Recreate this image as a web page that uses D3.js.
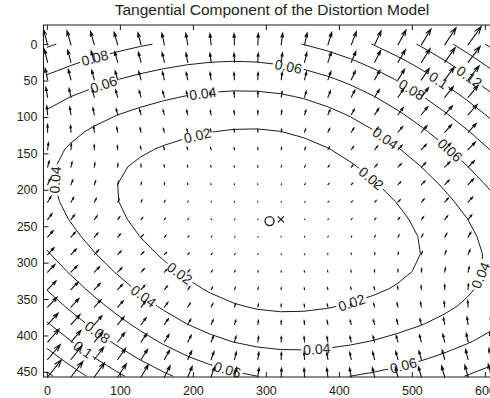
<!DOCTYPE html>
<html>
<head>
<meta charset="utf-8">
<script src="https://cdn.jsdelivr.net/npm/d3@7"></script>
<style>
  body { margin: 0; background: #fff; }
  text { font-family: "Liberation Sans", Arial, sans-serif; fill: #1e1e1e; }
</style>
</head>
<body>
<div class="canvas"></div>
<script>
// calibration values behind the plot
const imageSize = [640, 480];
const focal = [655, 655];
const principalPoint = [304, 242];
const tangential = [-0.00028, 0.00007]; // p1, p2
const gridSteps = 20;

const levels = [0.02, 0.04, 0.06, 0.08, 0.1, 0.12, 0.14, 0.16];
const xTicks = [0, 100, 200, 300, 400, 500, 600];
const yTicks = [0, 50, 100, 150, 200, 250, 300, 350, 400, 450];

// where the contour numbers sit: [level, x, y]
const labelSpots = [
  [0.08, 68, 27], [0.06, 80, 62], [0.04, 214, 71], [0.02, 208, 133],
  [0.04, 5, 186], [0.06, 331, 30], [0.08, 502, 59], [0.1, 539, 46],
  [0.12, 584, 37], [0.04, 466, 126], [0.06, 562, 135], [0.02, 447, 181],
  [0.04, 591, 316], [0.02, 416, 351], [0.04, 370, 421], [0.06, 488, 440],
  [0.02, 178, 320], [0.04, 128, 352], [0.1, 42, 430], [0.08, 64, 403],
  [0.06, 247, 448]
];

const width = 490, height = 398;
const plot = {left: 43.5, top: 25, width: 463, height: 352};

const svg = d3.select('.canvas')
  .append('svg')
    .attr('width', width)
    .attr('height', height);

// tangential distortion on the coarse grid
const gx = d3.range(0, imageSize[0], imageSize[0] / gridSteps);
const gy = d3.range(0, imageSize[1], imageSize[1] / gridSteps);

function tangentialShift(px, py) {
  const xn = (px - principalPoint[0]) / focal[0];
  const yn = (py - principalPoint[1]) / focal[1];
  const r2 = xn * xn + yn * yn;
  const [p1, p2] = tangential;
  return [
    focal[0] * (2 * p1 * xn * yn + p2 * (r2 + 2 * xn * xn)),
    focal[1] * (p1 * (r2 + 2 * yn * yn) + 2 * p2 * xn * yn)
  ];
}

const field = [];
gy.forEach(py => gx.forEach(px => {
  const [dx, dy] = tangentialShift(px, py);
  field.push({x: px + 1, y: py + 1, dx, dy, mag: Math.hypot(dx, dy)});
}));

// quiver autoscale, same rule as matlab
const n = Math.sqrt(field.length);
const delx = (d3.max(gx) - d3.min(gx)) / n;
const dely = (d3.max(gy) - d3.min(gy)) / n;
const del = delx * delx + dely * dely;
const maxLen = d3.max(field, d => Math.sqrt((d.dx * d.dx + d.dy * d.dy) / del));
const k = 0.9 / maxLen;
field.forEach(d => { d.u = d.dx * k; d.v = d.dy * k; });

const xDomain = d3.extent(field.flatMap(d => [d.x, d.x + d.u]));
const yDomain = d3.extent(field.flatMap(d => [d.y, d.y + d.v]));

const x = d3.scaleLinear().domain(xDomain).range([plot.left, plot.left + plot.width]);
const y = d3.scaleLinear().domain(yDomain).range([plot.top, plot.top + plot.height]);

// contours, with the grid border pieces cut away
const nCols = gx.length, nRows = gy.length;
const colScale = d3.scaleLinear().domain([0.5, nCols - 0.5]).range([gx[0], gx[nCols - 1]]);
const rowScale = d3.scaleLinear().domain([0.5, nRows - 0.5]).range([gy[0], gy[nRows - 1]]);

function openLines(ring) {
  const inside = p => p[0] > 0 && p[0] < nCols && p[1] > 0 && p[1] < nRows;
  let pts = ring.slice();
  const last = pts[pts.length - 1];
  if (last[0] === pts[0][0] && last[1] === pts[0][1]) pts.pop();
  const start = pts.findIndex(p => !inside(p));
  if (start < 0) return [pts.concat([pts[0]])];
  const rot = pts.slice(start).concat(pts.slice(0, start));
  const lines = [];
  let cur = [];
  rot.forEach(p => {
    if (inside(p)) cur.push(p);
    else { if (cur.length > 1) lines.push(cur); cur = []; }
  });
  if (cur.length > 1) lines.push(cur);
  return lines;
}

const contourGen = d3.contours().size([nCols, nRows]).thresholds(levels);
const contourLines = contourGen(field.map(d => d.mag)).map(c => ({
  value: c.value,
  lines: c.coordinates.flatMap(poly => poly.flatMap(openLines))
    .map(line => line.map(([cx, cy]) => [colScale(cx), rowScale(cy)]))
}));

const line = d3.line().x(p => x(p[0])).y(p => y(p[1]));

const mask = svg.append('defs').append('mask')
  .attr('id', 'label-gaps')
  .attr('maskUnits', 'userSpaceOnUse')
  .attr('x', 0).attr('y', 0).attr('width', width).attr('height', height);
mask.append('rect')
  .attr('width', width).attr('height', height).attr('fill', '#fff');

svg.append('g')
  .attr('mask', 'url(#label-gaps)')
  .selectAll('path')
  .data(contourLines.flatMap(c => c.lines))
  .enter()
  .append('path')
    .attr('d', line)
    .attr('fill', 'none')
    .attr('stroke', '#1a1a1a')
    .attr('stroke-width', 1);

// arrows
const alpha = 0.33, beta = 0.33;
svg.append('g')
  .selectAll('path')
  .data(field)
  .enter()
  .append('path')
    .attr('d', d => {
      const tx = d.x + d.u, ty = d.y + d.v;
      const h1 = [tx - alpha * (d.u + beta * d.v), ty - alpha * (d.v - beta * d.u)];
      const h2 = [tx - alpha * (d.u - beta * d.v), ty - alpha * (d.v + beta * d.u)];
      return `M${x(d.x)},${y(d.y)}L${x(tx)},${y(ty)}` +
        `M${x(h1[0])},${y(h1[1])}L${x(tx)},${y(ty)}L${x(h2[0])},${y(h2[1])}`;
    })
    .attr('fill', 'none')
    .attr('stroke', '#111')
    .attr('stroke-width', 1.1)
    .attr('stroke-linecap', 'round');

// principal point and image centre
svg.append('circle')
  .attr('cx', x(principalPoint[0] + 1))
  .attr('cy', y(principalPoint[1] + 1))
  .attr('r', 4.5)
  .attr('fill', 'none')
  .attr('stroke', '#1a1a1a')
  .attr('stroke-width', 1.3);

const cx0 = x((imageSize[0] - 1) / 2 + 1), cy0 = y((imageSize[1] - 1) / 2 + 1);
svg.append('path')
  .attr('d', `M${cx0 - 3},${cy0 - 3}L${cx0 + 3},${cy0 + 3}M${cx0 - 3},${cy0 + 3}L${cx0 + 3},${cy0 - 3}`)
  .attr('stroke', '#1a1a1a')
  .attr('stroke-width', 1.2);

// contour numbers
const labelLayer = svg.append('g');
labelSpots.forEach(([level, lx, ly]) => {
  const lines = contourLines.filter(c => c.value === level).flatMap(c => c.lines);
  const sx = x(lx), sy = y(ly);
  let best = null;
  lines.forEach(pts => {
    for (let i = 1; i < pts.length; i++) {
      const ax = x(pts[i - 1][0]), ay = y(pts[i - 1][1]);
      const bx = x(pts[i][0]), by = y(pts[i][1]);
      const vx = bx - ax, vy = by - ay, l2 = vx * vx + vy * vy || 1;
      const t = Math.max(0, Math.min(1, ((sx - ax) * vx + (sy - ay) * vy) / l2));
      const qx = ax + t * vx, qy = ay + t * vy;
      const dist = Math.hypot(qx - sx, qy - sy);
      if (!best || dist < best.dist) best = {dist, qx, qy, ang: Math.atan2(vy, vx) * 180 / Math.PI};
    }
  });
  if (!best) return;
  let ang = best.ang;
  if (ang > 90) ang -= 180;
  if (ang < -90) ang += 180;
  const label = labelLayer.append('text')
    .attr('transform', `translate(${best.qx},${best.qy}) rotate(${ang})`)
    .attr('text-anchor', 'middle')
    .attr('dy', '0.36em')
    .attr('font-size', 14)
    .text(String(level));
  const w = label.node().getComputedTextLength() + 4;
  mask.append('rect')
    .attr('x', -w / 2).attr('y', -6)
    .attr('width', w).attr('height', 12)
    .attr('fill', '#000')
    .attr('transform', `translate(${best.qx},${best.qy}) rotate(${ang})`);
});

// axes
const xAxis = d3.axisBottom(x).tickValues(xTicks).tickSizeInner(-5).tickSizeOuter(0).tickPadding(9);
const xTopAxis = d3.axisTop(x).tickValues(xTicks).tickSizeInner(-5).tickSizeOuter(0).tickFormat('');
const yAxis = d3.axisLeft(y).tickValues(yTicks).tickSizeInner(-5).tickSizeOuter(0).tickPadding(6);

const xAxisGroup = svg.append('g')
  .attr('transform', `translate(0, ${plot.top + plot.height})`)
  .call(xAxis);
const xTopGroup = svg.append('g')
  .attr('transform', `translate(0, ${plot.top})`)
  .call(xTopAxis);
const yAxisGroup = svg.append('g')
  .attr('transform', `translate(${plot.left}, 0)`)
  .call(yAxis);

[xAxisGroup, xTopGroup, yAxisGroup].forEach(g => {
  g.attr('font-size', 12.5).attr('font-family', null);
  g.select('.domain').remove();
  g.selectAll('line').attr('stroke', '#1a1a1a');
  g.selectAll('text').attr('fill', '#1a1a1a');
});

svg.append('rect')
  .attr('x', plot.left)
  .attr('y', plot.top)
  .attr('width', plot.width)
  .attr('height', plot.height)
  .attr('fill', 'none')
  .attr('stroke', '#1a1a1a')
  .attr('stroke-width', 1);

svg.append('text')
  .attr('x', 272)
  .attr('y', 15)
  .attr('text-anchor', 'middle')
  .attr('font-size', 15.5)
  .text('Tangential Component of the Distortion Model');
</script>
</body>
</html>
